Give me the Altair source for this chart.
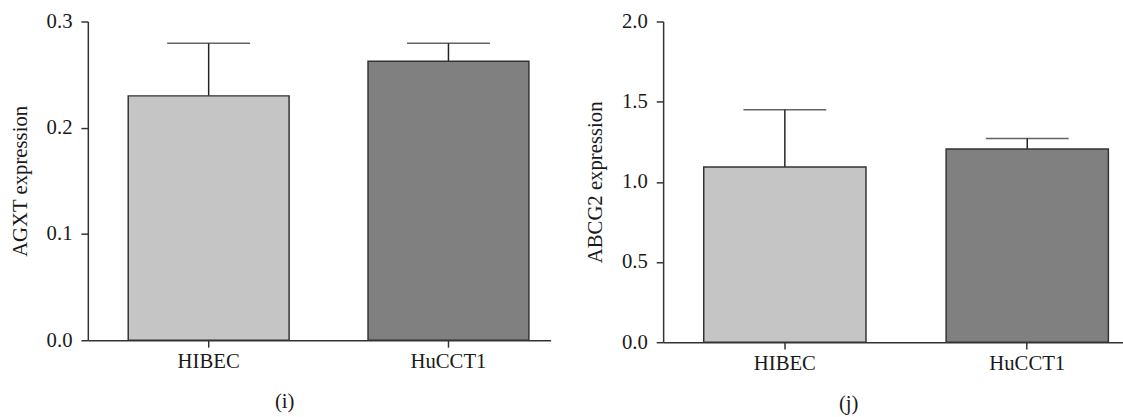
import altair as alt
import pandas as pd

cells = ["HIBEC", "HuCCT1"]
bar_colors = ["#c4c5c4", "#808080"]

agxt_mean = [0.230, 0.2625]
agxt_upper = [0.2795, 0.2795]

abcg2_mean = [1.092, 1.205]
abcg2_upper = [1.449, 1.271]

FONT = "Liberation Serif"
INK = "#333333"
TXT = "#1a1a1a"
FS = 21


def panel(mean, upper, ytitle, ymax, ticks, caption, width, height,
          pad_inner, pad_outer, align, cap_dx):
    df = pd.DataFrame({"cell": cells, "mean": mean, "upper": upper,
                       "fill": bar_colors})
    base = alt.Chart(df)
    x = alt.X("cell:N", sort=cells,
              scale=alt.Scale(paddingInner=pad_inner, paddingOuter=pad_outer,
                              align=align),
              axis=alt.Axis(title=None, labelAngle=0, tickSize=7,
                            labelPadding=4, labelFontSize=FS, labelFont=FONT,
                            labelColor=TXT, domainColor=INK,
                            tickColor=INK, domainWidth=1.5, tickWidth=1.5))
    yscale = alt.Scale(domain=[0, ymax], nice=False, zero=True)
    y = alt.Y("mean:Q", scale=yscale,
              axis=alt.Axis(title=ytitle, values=ticks, format=".1f",
                            grid=False, tickSize=7, labelPadding=9,
                            labelFontSize=FS, labelFont=FONT,
                            labelColor=TXT, titleFont=FONT,
                            titleFontSize=FS, titleFontWeight="normal",
                            titleColor=TXT, titlePadding=16,
                            domainColor=INK, tickColor=INK,
                            domainWidth=1.5, tickWidth=1.5))
    bars = base.mark_bar(stroke=INK, strokeWidth=1.5).encode(
        x=x, y=y, color=alt.Color("fill:N", scale=None))
    stem = base.mark_rule(color="#222222", strokeWidth=1.5).encode(
        x=x, y=alt.Y("mean:Q", scale=yscale), y2="upper:Q")
    cap = base.mark_tick(color="#222222", thickness=1.5, size=84,
                         orient="horizontal").encode(
        x=x, y=alt.Y("upper:Q", scale=yscale))
    return alt.layer(stem, cap, bars).properties(
        width=width, height=height,
        title=alt.TitleParams(caption, orient="bottom", font=FONT,
                              fontSize=FS, fontWeight="normal",
                              color=TXT, offset=20, dx=cap_dx))


left = panel(agxt_mean, agxt_upper, "AGXT expression", 0.3,
             [0.0, 0.1, 0.2, 0.3], "(i)", 469, 323,
             0.3292, 0.1296, 0.65, -35)
right = panel(abcg2_mean, abcg2_upper, "ABCG2 expression", 2.0,
              [0.0, 0.5, 1.0, 1.5, 2.0], "(j)", 466, 325,
              0.3306, 0.1139, 0.735, -45)

chart = alt.hconcat(left, right, spacing=34).properties(
    padding={"left": 9, "top": 8, "right": 0, "bottom": 0}
).configure(background="white").configure_view(stroke=None)

chart.save("out.html", embed_options={"renderer": "svg", "actions": False})
